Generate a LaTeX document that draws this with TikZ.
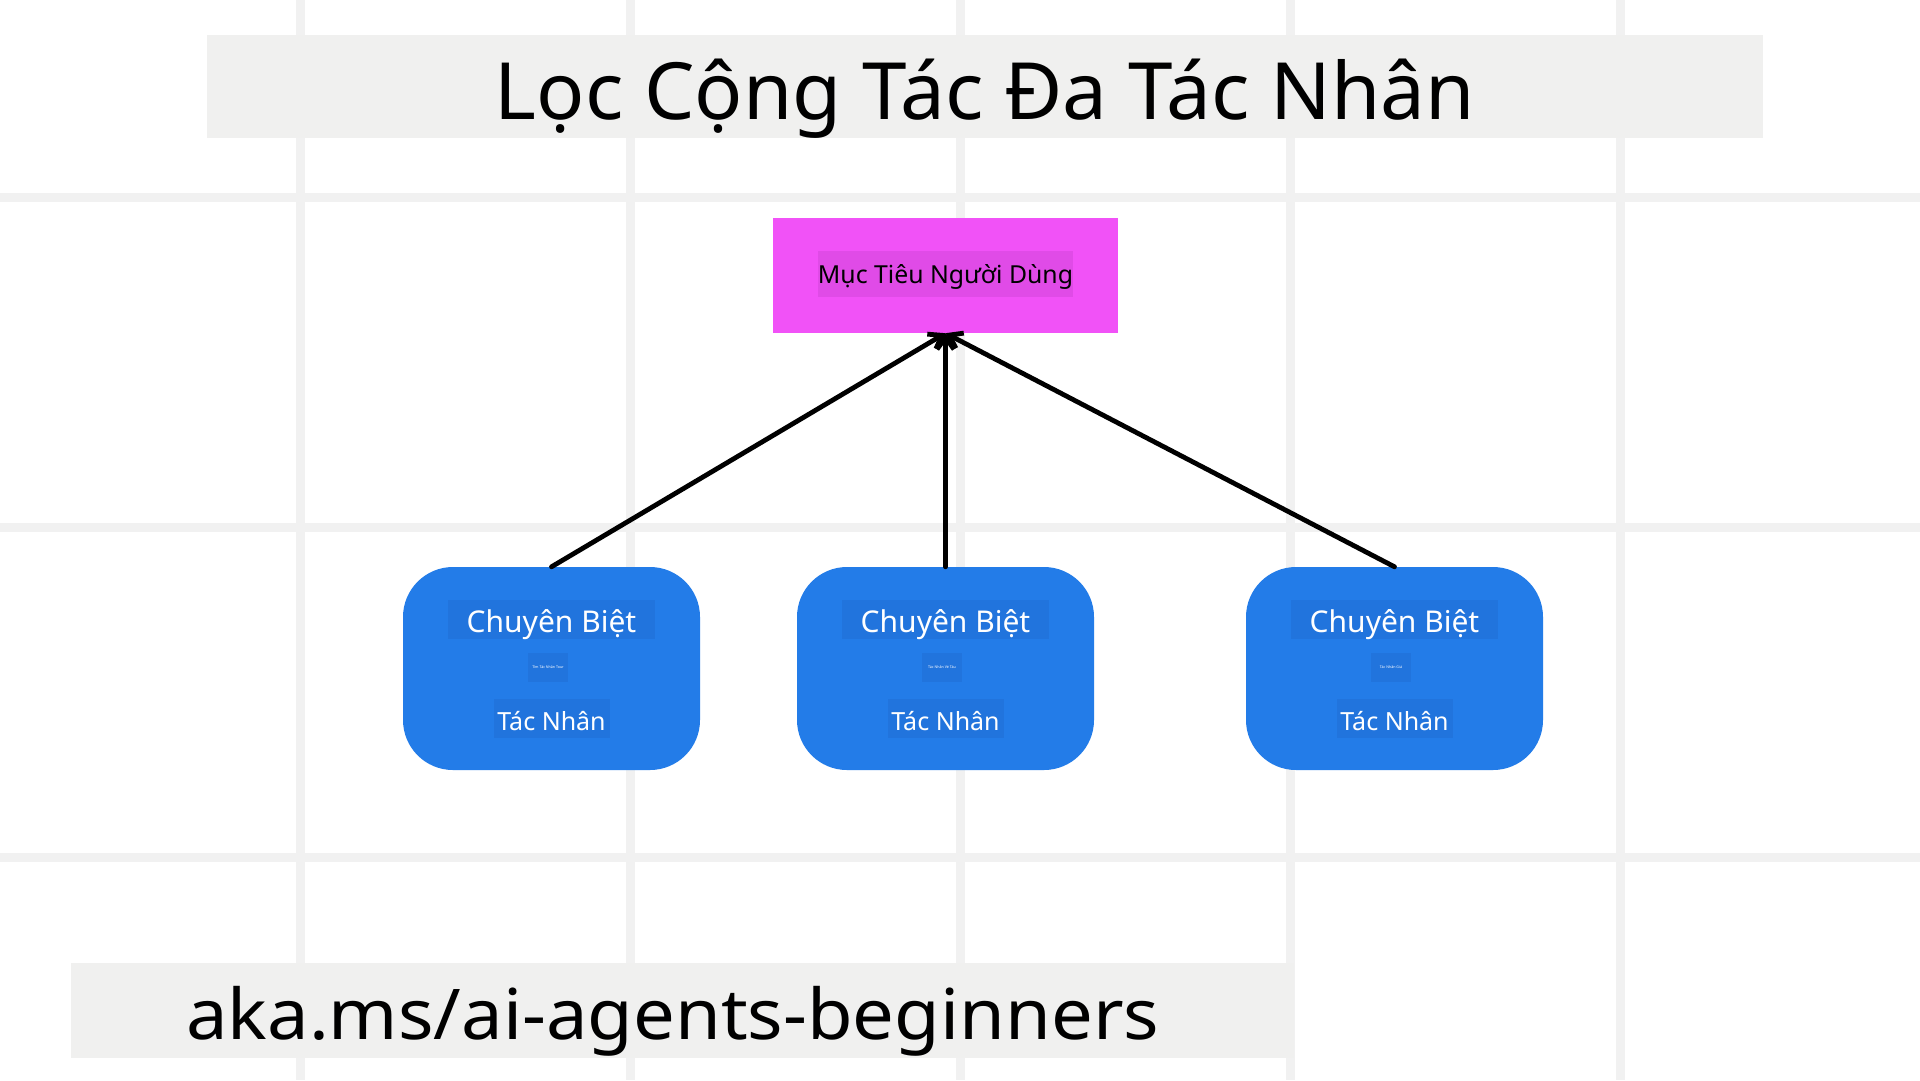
\documentclass[tikz,border=0pt]{standalone}
\usepackage{fontspec}
\setmainfont{Noto Sans}
\newfontfamily\linkfont[FakeStretch=1.06]{Noto Sans}
\newfontfamily\titlefont[FakeStretch=1.012]{Noto Sans}
\usepackage{tikz}
\usetikzlibrary{positioning,arrows.meta}
\definecolor{gridgray}{HTML}{F1F1F1}
\definecolor{bandgray}{HTML}{F0F0EF}
\definecolor{goalpink}{HTML}{F152F7}
\definecolor{goaltag}{HTML}{E04BE7}
\definecolor{agentblue}{HTML}{237CE8}
\definecolor{agenttag}{HTML}{2174DD}

\begin{document}
\begin{tikzpicture}[x=1pt,y=-1pt]
      \tikzstyle{agent} = [rectangle, rounded corners=50pt, fill=agentblue,
      minimum width=297pt, minimum height=203pt, inner sep=0pt]
      \tikzstyle{tag} = [fill=agenttag, text=white, inner sep=0pt,
      minimum height=39pt, text depth=0pt] \tikzstyle{band} = [fill=bandgray, inner sep=0pt]
      \tikzstyle{arw} = [line width=4.8pt, line cap=round,
      -{Straight Barb[length=12pt,width=17pt]}]
      \useasboundingbox (0,0) rectangle (1920,1080);
      \fill[white] (0,0) rectangle (1920,1080);
      % GRID
      \foreach \gx in {300,630,960,1290,1620}
        \draw[gridgray, line width=9pt] (\gx,0) -- (\gx,1080);
      \foreach \gy in {197,527,857}
        \draw[gridgray, line width=9pt] (0,\gy) -- (1920,\gy);
      % TITLE
      \node[band, minimum width=1556pt, minimum height=103pt] (titleband)
      at (985,86.5) {};
      \node[anchor=base, inner sep=0pt] (title) at (985,119)
      {\titlefont\fontsize{79}{90}\selectfont Lọc Cộng Tác Đa Tác Nhân};
      % GOAL
      \node[fill=goalpink, minimum width=345pt, minimum height=115pt,
      inner sep=0pt] (goal) at (945.5,275.5) {};
      \node[fill=goaltag, minimum width=254pt, minimum height=46pt,
      inner sep=0pt, text height=18.6pt, text depth=0pt] (goaltext)
      at (945.5,274) {\fontsize{24.8}{28}\selectfont Mục Tiêu Người Dùng};
      % AGENTS
      \foreach \n/\cx/\sub in {s1/551.5/Tìm Tác Nhân Tour,
        s2/945.5/Tác Nhân Vé Tàu, s3/1394.5/Tác Nhân Giá} {
        \node[agent] (\n) at (\cx,668.5) {};
        \node[tag, minimum width=207pt, text height=25pt] (\n top)
        at (\cx,619.5) {\fontsize{30}{34}\selectfont Chuyên Biệt};
        \node[tag, minimum width=40pt, minimum height=29pt] (\n mid)
        at (\cx-3.5,667) {\fontsize{3.6}{4}\selectfont \sub};
        \node[tag, minimum width=116pt, text height=24.4pt] (\n bot)
        at (\cx,718.5) {\fontsize{25}{30}\selectfont Tác Nhân};
        \draw[arw] (\n.north) -- (goal.south);
      }
      % LINK
      \node[band, minimum width=1223pt, minimum height=95pt] (linkband)
      at (682.5,1010.5) {};
      \node[anchor=base west, inner sep=0pt] (link) at (186,1039)
      {\linkfont\fontsize{70}{80}\selectfont aka.ms/ai-agents-beginners};
\end{tikzpicture}
\end{document}
